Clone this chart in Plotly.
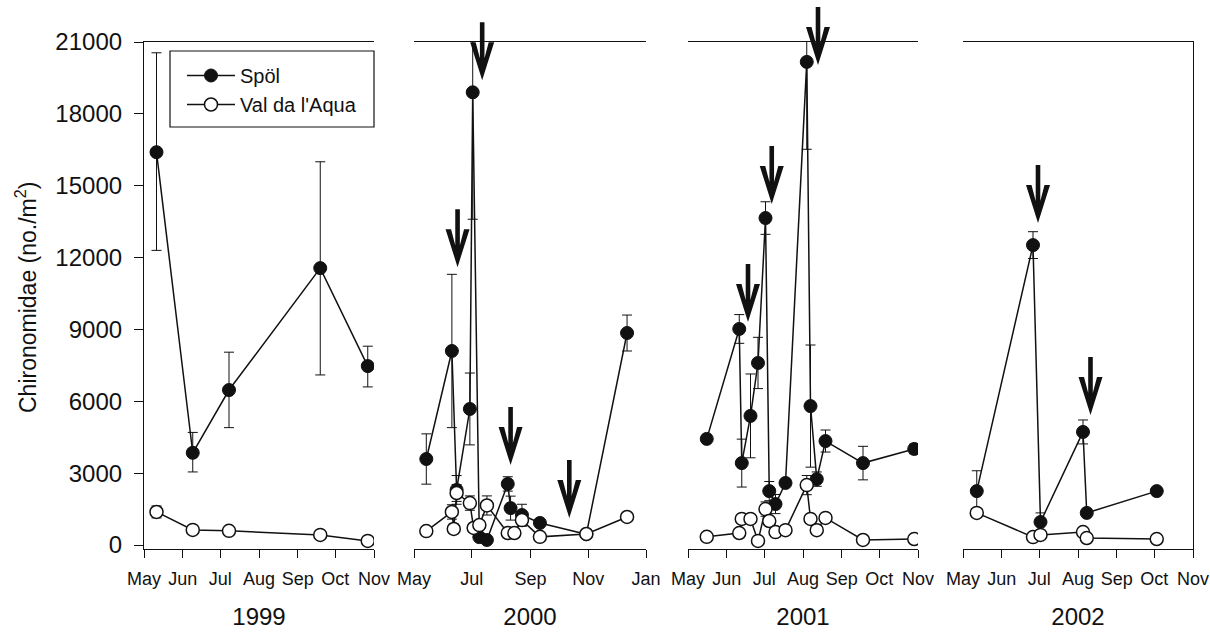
import plotly.graph_objects as go

# ---------------- data ----------------
# 1999
spol_1999_dates = ["1999-05-11", "1999-06-09", "1999-07-08", "1999-09-19", "1999-10-27"]
spol_1999 = [16400, 3850, 6470, 11560, 7470]
spol_1999_err_up = [4150, 850, 1580, 4440, 830]
spol_1999_err_dn = [4100, 800, 1570, 4460, 870]
val_1999_dates = ["1999-05-11", "1999-06-09", "1999-07-08", "1999-09-19", "1999-10-27"]
val_1999 = [1380, 630, 590, 420, 170]
val_1999_err = [250, 100, 80, 0, 0]

# 2000
spol_2000_dates = ["2000-05-14", "2000-06-10", "2000-06-15", "2000-06-29", "2000-07-02",
                   "2000-07-09", "2000-07-17", "2000-08-08", "2000-08-11", "2000-08-23",
                   "2000-09-11", "2000-10-30", "2000-12-12"]
spol_2000 = [3590, 8100, 2300, 5680, 18900, 330, 210, 2550, 1540, 1250, 920, 450, 8850]
spol_2000_err = [1050, 3200, 600, 1500, 5300, 150, 100, 300, 500, 450, 0, 0, 750]
val_2000_dates = ["2000-05-14", "2000-06-10", "2000-06-12", "2000-06-15", "2000-06-29",
                  "2000-07-03", "2000-07-09", "2000-07-17", "2000-08-08", "2000-08-15",
                  "2000-08-23", "2000-09-11", "2000-10-30", "2000-12-12"]
val_2000 = [580, 1380, 670, 2170, 1750, 710, 830, 1650, 500, 500, 1040, 340, 460, 1170]
val_2000_err = [0, 300, 200, 350, 300, 0, 0, 400, 0, 0, 250, 0, 0, 0]

# 2001
spol_2001_dates = ["2001-05-16", "2001-06-11", "2001-06-13", "2001-06-20", "2001-06-26",
                   "2001-07-02", "2001-07-05", "2001-07-10", "2001-07-18", "2001-08-04",
                   "2001-08-07", "2001-08-12", "2001-08-19", "2001-09-18", "2001-10-29"]
spol_2001 = [4430, 9020, 3420, 5390, 7600, 13650, 2250, 1710, 2590, 20170, 5800, 2750, 4340, 3420, 4010]
spol_2001_err = [0, 600, 1000, 1750, 1070, 680, 400, 400, 0, 3650, 2550, 300, 460, 700, 200]
val_2001_dates = spol_2001_dates
val_2001 = [340, 500, 1090, 1090, 170, 1500, 1000, 540, 620, 2500, 1090, 620, 1130, 210, 250]
val_2001_err = [0, 0, 0, 0, 0, 300, 0, 0, 0, 400, 0, 0, 0, 0, 0]

# 2002
spol_2002_dates = ["2002-05-12", "2002-06-26", "2002-07-02", "2002-08-05", "2002-08-08", "2002-10-03"]
spol_2002 = [2250, 12520, 960, 4720, 1340, 2250]
spol_2002_err = [850, 560, 380, 500, 0, 0]
val_2002_dates = ["2002-05-12", "2002-06-26", "2002-07-02", "2002-08-05", "2002-08-08", "2002-10-03"]
val_2002 = [1340, 330, 420, 540, 290, 250]
val_2002_err = [0, 0, 0, 0, 0, 0]

# arrows (date, value at arrow tip)
arrow_dates = ["2000-06-16", "2000-07-12", "2000-08-11", "2000-10-12",
               "2001-06-18", "2001-07-07", "2001-08-13",
               "2002-06-30", "2002-08-11"]
arrow_tips = [11600, 19400, 3340, 1130, 9310, 14240, 20040, 13440, 5430]
arrow_panel = [2, 2, 2, 2, 3, 3, 3, 4, 4]

year_labels = ["1999", "2000", "2001", "2002"]
x_ranges = [["1999-05-01", "1999-11-01"], ["2000-05-01", "2001-01-01"],
            ["2001-05-01", "2001-11-01"], ["2002-05-01", "2002-11-01"]]
x_dticks = ["M1", "M2", "M1", "M1"]
y_ticks = [0, 3000, 6000, 9000, 12000, 15000, 18000, 21000]

# ---------------- layout geometry ----------------
W, H = 1210, 635
x_domains = [[144 / W, 374 / W], [414 / W, 646 / W], [688 / W, 918 / W], [963 / W, 1193 / W]]
y_domain = [(H - 549) / H, (H - 42) / H]
y_range = [-167, 21000]
FONT = "Liberation Sans, Arial, Helvetica, sans-serif"
INK = "#111111"

fig = go.Figure()

panels = [
    (spol_1999_dates, spol_1999, spol_1999_err_up, spol_1999_err_dn, val_1999_dates, val_1999, val_1999_err),
    (spol_2000_dates, spol_2000, spol_2000_err, spol_2000_err, val_2000_dates, val_2000, val_2000_err),
    (spol_2001_dates, spol_2001, spol_2001_err, spol_2001_err, val_2001_dates, val_2001, val_2001_err),
    (spol_2002_dates, spol_2002, spol_2002_err, spol_2002_err, val_2002_dates, val_2002, val_2002_err),
]

for i, (sd, sv, seu, sed, vd, vv, ve) in enumerate(panels):
    xa = "x" if i == 0 else f"x{i + 1}"
    ya = "y" if i == 0 else f"y{i + 1}"
    fig.add_trace(go.Scatter(
        x=sd, y=sv, xaxis=xa, yaxis=ya, mode="lines+markers", name="Spöl",
        showlegend=(i == 0), legendgroup="s",
        line=dict(color=INK, width=1.5),
        marker=dict(symbol="circle", size=13, color=INK, line=dict(color=INK, width=1)),
        error_y=dict(type="data", array=seu, arrayminus=sed, symmetric=False,
                     color=INK, thickness=1, width=5),
    ))
    fig.add_trace(go.Scatter(
        x=vd, y=vv, xaxis=xa, yaxis=ya, mode="lines+markers", name="Val da l'Aqua",
        showlegend=(i == 0), legendgroup="v",
        line=dict(color=INK, width=1.5),
        marker=dict(symbol="circle", size=13, color="white", line=dict(color=INK, width=1.5)),
        error_y=dict(type="data", array=ve, color=INK, thickness=1, width=5),
    ))

layout = dict(
    width=W, height=H,
    template="none",
    margin=dict(l=0, r=0, t=0, b=0, autoexpand=False),
    paper_bgcolor="white", plot_bgcolor="white",
    font=dict(family=FONT, color=INK),
    showlegend=True,
    legend=dict(x=182 / W, y=(H - 56) / H, xanchor="left", yanchor="top",
                bgcolor="rgba(0,0,0,0)", borderwidth=0,
                font=dict(size=20, family=FONT, color=INK),
                itemwidth=48, tracegroupgap=0),
)

for i in range(4):
    xk = "xaxis" if i == 0 else f"xaxis{i + 1}"
    yk = "yaxis" if i == 0 else f"yaxis{i + 1}"
    ya_id = "y" if i == 0 else f"y{i + 1}"
    xa_id = "x" if i == 0 else f"x{i + 1}"
    layout[xk] = dict(
        domain=x_domains[i], anchor=ya_id, type="date", range=x_ranges[i],
        tick0=x_ranges[i][0], dtick=x_dticks[i], tickformat="%b",
        showline=True, linecolor=INK, linewidth=1.2, mirror=True,
        ticks="outside", ticklen=8, tickwidth=1.2, tickcolor=INK,
        showgrid=False, zeroline=False, automargin=False,
        tickfont=dict(size=18, family=FONT, color=INK), ticklabelstandoff=5,
        title=dict(text=year_labels[i], font=dict(size=24, family=FONT, color=INK), standoff=20),
    )
    ydict = dict(domain=y_domain, anchor=xa_id, range=y_range, showgrid=False,
                 zeroline=False, automargin=False)
    if i == 0:
        ydict.update(showline=True, linecolor=INK, linewidth=1.2, ticks="outside", ticklen=9,
                     tickwidth=1.2, tickcolor=INK, tickvals=y_ticks, tickformat="d",
                     tickfont=dict(size=24, family=FONT, color=INK), ticklabelstandoff=7)
    elif i == 3:
        ydict.update(showline=True, linecolor=INK, linewidth=1.2, side="right",
                     showticklabels=False, ticks="")
    else:
        ydict.update(visible=False)
    layout[yk] = ydict

fig.update_layout(**layout)

# legend frame
fig.add_shape(type="rect", xref="paper", yref="paper",
              x0=170 / W, x1=374 / W, y0=(H - 127) / H, y1=(H - 51) / H,
              line=dict(color=INK, width=1.2), fillcolor="rgba(0,0,0,0)", layer="above")

# y-axis title
fig.add_annotation(
    text="Chironomidae (no./m<sup>2</sup>)", textangle=-90,
    xref="paper", yref="paper", x=26 / W, y=(H - 298) / H,
    xanchor="center", yanchor="middle",
    showarrow=False, font=dict(size=23, family=FONT, color=INK),
)

# arrows marking events (pixel-sized paths anchored at data positions)
arrow_path = "M0,0 L-12,38 L-6.5,38 L-2.3,22 L-2.3,58 L2.3,58 L2.3,22 L6.5,38 L12,38 Z"
for d, v, p in zip(arrow_dates, arrow_tips, arrow_panel):
    yfrac = y_domain[0] + (v - y_range[0]) / (y_range[1] - y_range[0]) * (y_domain[1] - y_domain[0])
    fig.add_shape(
        type="path", xref=f"x{p}", yref="paper",
        xsizemode="pixel", ysizemode="pixel", xanchor=d, yanchor=yfrac,
        path=arrow_path, fillcolor=INK, line=dict(width=0), layer="above",
    )

fig.write_html("out.html")
